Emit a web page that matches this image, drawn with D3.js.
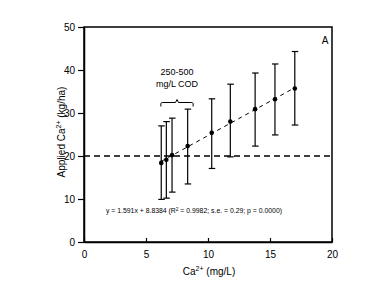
<!DOCTYPE html>
<html>
<head>
<meta charset="utf-8">
<script src="https://cdn.jsdelivr.net/npm/d3@7"></script>
<style>
  body { margin: 0; background: #fff; }
  text { font-family: Arial, "Liberation Sans", sans-serif; fill: #000; }
</style>
</head>
<body>
<div id="chart"></div>
<script>
// data
var caConc   = [6.23, 6.64, 7.1, 8.36, 10.3, 11.8, 13.8, 15.4, 17.0];
var applied  = [18.4, 19.1, 20.2, 22.3, 25.4, 28.0, 30.9, 33.2, 35.7];
var errHigh  = [27.0, 28.0, 28.8, 30.9, 33.3, 36.7, 39.3, 41.4, 44.3];
var errLow   = [9.9, 10.2, 11.6, 13.5, 17.1, 19.8, 22.3, 24.9, 27.2];
var xTicks = [0, 5, 10, 15, 20];
var yTicks = [0, 10, 20, 30, 40, 50];
var slope = 1.591, intercept = 8.8384;
var refLevel = 20;

var width = 390, height = 293;
var margin = {left: 84, right: 58, top: 27, bottom: 51};

var svg = d3.select("#chart").append("svg")
  .attr("width", width)
  .attr("height", height);

var x = d3.scaleLinear().domain([0, 20]).range([margin.left, width - margin.right]);
var y = d3.scaleLinear().domain([0, 50]).range([height - margin.bottom, margin.top]);

// frame
svg.append("rect")
  .attr("x", x(0)).attr("y", y(50))
  .attr("width", x(20) - x(0)).attr("height", y(0) - y(50))
  .attr("fill", "none").attr("stroke", "#000").attr("stroke-width", 1.5);

// axes
var xAxis = svg.append("g")
  .attr("transform", "translate(0," + y(0) + ")")
  .call(d3.axisBottom(x).tickValues(xTicks).tickSizeInner(-4).tickSizeOuter(0).tickPadding(9));
var yAxis = svg.append("g")
  .attr("transform", "translate(" + x(0) + ",0)")
  .call(d3.axisLeft(y).tickValues(yTicks).tickSizeInner(6).tickSizeOuter(0).tickPadding(3));
[xAxis, yAxis].forEach(function(a) {
  a.select(".domain").attr("stroke-width", 1.5);
  a.selectAll(".tick line").attr("stroke-width", 1.2);
  a.selectAll("text").style("font-size", "10px").style("font-family", "Arial, 'Liberation Sans', sans-serif");
});

// reference line at 20
svg.append("line")
  .attr("x1", x(0)).attr("x2", x(20))
  .attr("y1", y(refLevel)).attr("y2", y(refLevel))
  .attr("stroke", "#000").attr("stroke-width", 1.3)
  .attr("stroke-dasharray", "6,4");

// regression line
var xr = d3.extent(caConc);
svg.append("line")
  .attr("x1", x(xr[0])).attr("x2", x(xr[1]))
  .attr("y1", y(slope * xr[0] + intercept)).attr("y2", y(slope * xr[1] + intercept))
  .attr("stroke", "#000").attr("stroke-width", 1)
  .attr("stroke-dasharray", "4,4");

// error bars
var bars = svg.append("g").selectAll("g")
  .data(caConc.map(function(d, i) { return {x: d, y: applied[i], hi: errHigh[i], lo: errLow[i]}; }))
  .join("g");
bars.append("line")
  .attr("x1", function(d) { return x(d.x); }).attr("x2", function(d) { return x(d.x); })
  .attr("y1", function(d) { return y(d.hi); }).attr("y2", function(d) { return y(d.lo); })
  .attr("stroke", "#000").attr("stroke-width", 1.2);
bars.selectAll(".cap")
  .data(function(d) { return [{x: d.x, v: d.hi}, {x: d.x, v: d.lo}]; })
  .join("line")
  .attr("class", "cap")
  .attr("x1", function(d) { return x(d.x) - 3; }).attr("x2", function(d) { return x(d.x) + 3.5; })
  .attr("y1", function(d) { return y(d.v); }).attr("y2", function(d) { return y(d.v); })
  .attr("stroke", "#000").attr("stroke-width", 1.2);
bars.append("circle")
  .attr("cx", function(d) { return x(d.x); })
  .attr("cy", function(d) { return y(d.y); })
  .attr("r", 2.3)
  .attr("fill", "#000");

// brace over the 250-500 mg/L COD group
var bx0 = x(6.2), bx1 = x(8.8), bmid = (bx0 + bx1) / 2, by = 102.5;
svg.append("path")
  .attr("d", "M" + bx0 + "," + (by + 4) + " L" + bx0 + "," + (by + 1) + " Q" + bx0 + "," + by + " " + (bx0 + 2) + "," + by +
             " L" + (bmid - 1.5) + "," + by + " L" + bmid + "," + (by - 3) + " L" + (bmid + 1.5) + "," + by +
             " L" + (bx1 - 2) + "," + by + " Q" + bx1 + "," + by + " " + bx1 + "," + (by + 1) + " L" + bx1 + "," + (by + 4))
  .attr("fill", "none").attr("stroke", "#000").attr("stroke-width", 1);
svg.append("text").attr("x", bmid).attr("y", 75)
  .attr("text-anchor", "middle").style("font-size", "9px").text("250-500");
svg.append("text").attr("x", bmid).attr("y", 87)
  .attr("text-anchor", "middle").style("font-size", "9px").text("mg/L COD");

// panel letter
svg.append("text").attr("x", 325).attr("y", 44)
  .attr("text-anchor", "middle").style("font-size", "10px").text("A");

// equation
var eq = svg.append("text").attr("x", 106).attr("y", 213)
  .attr("textLength", 176).attr("lengthAdjust", "spacingAndGlyphs")
  .style("font-size", "6.5px");
eq.append("tspan").text("y = 1.591x + 8.8384 (R");
eq.append("tspan").attr("dy", -2).style("font-size", "4.5px").text("2");
eq.append("tspan").attr("dy", 2).text(" = 0.9982; s.e. = 0.29; p = 0.0000)");

// axis titles
var xt = svg.append("text").attr("x", 209).attr("y", 275)
  .attr("text-anchor", "middle").style("font-size", "10px");
xt.append("tspan").text("Ca");
xt.append("tspan").attr("dy", -4).style("font-size", "7px").text("2+");
xt.append("tspan").attr("dy", 4).text(" (mg/L)");

var yt = svg.append("text")
  .attr("transform", "translate(65,132) rotate(-90)")
  .attr("text-anchor", "middle").style("font-size", "10px");
yt.append("tspan").text("Applied Ca");
yt.append("tspan").attr("dy", -4).style("font-size", "7px").text("2+");
yt.append("tspan").attr("dy", 4).text(" (kg/ha)");
</script>
</body>
</html>
